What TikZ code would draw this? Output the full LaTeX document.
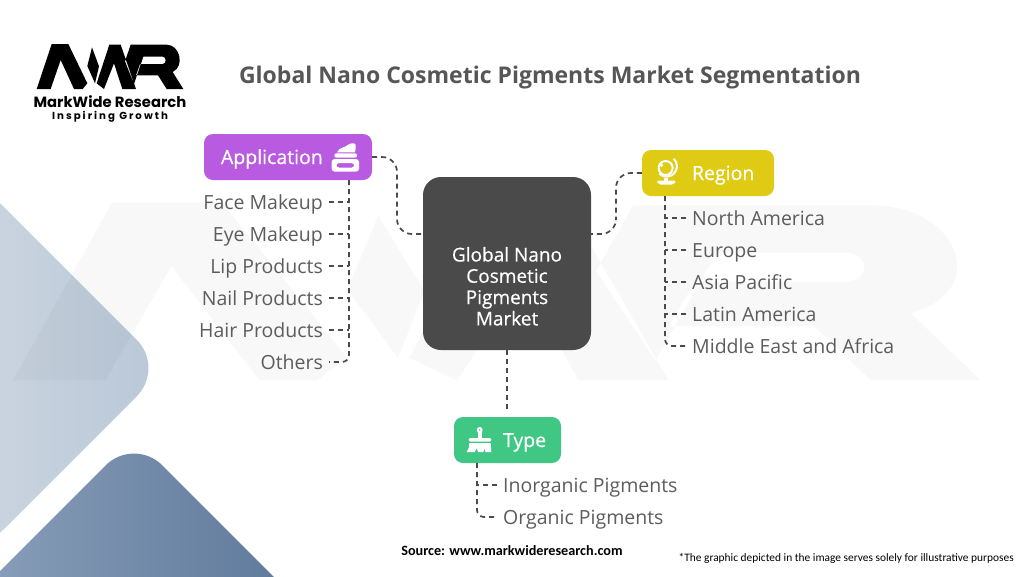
\documentclass[tikz,border=0pt]{standalone}
\usepackage{fontspec}
\setmainfont{Open Sans}
\newfontfamily\medfont[FakeBold=0.5]{Open Sans}
\newfontfamily\logofont{Poppins}
\newfontfamily\logotagfont[LetterSpace=20]{Poppins}
\newfontfamily\notefont{Carlito}
\usetikzlibrary{positioning}
\definecolor{inkgray}{HTML}{4A4A4A}
\definecolor{textgray}{HTML}{5C5C5C}
\definecolor{titlegray}{HTML}{565656}
\definecolor{appcolor}{HTML}{B95BE0}
\definecolor{regcolor}{HTML}{E0CB14}
\definecolor{typcolor}{HTML}{3FC783}
\definecolor{lightleft}{HTML}{CBD5E0}
\definecolor{lightright}{HTML}{B9C7D7}
\definecolor{darkleft}{HTML}{8EA3BD}
\definecolor{darkright}{HTML}{5A7598}
\newcommand{\logoshape}{%
  (20,153) -- (65,18) -- (115,18) -- (172,136) -- (158,153) -- (132,153) -- (92,66) -- (62,153) -- cycle
  (186,28) -- (207,85) -- (195,136) -- (172,84) -- cycle
  (200,136) -- (238,20) -- (272,20) -- (318,153) -- (277,153) -- (252,76) -- (222,153) -- cycle
  (285,70) -- (302,20) -- (410,20) .. controls (450,20) and (465,85) .. (428,102) -- (460,153) -- (410,153) -- (384,112) -- (318,112) -- (330,78) -- (398,78) .. controls (410,78) and (410,56) .. (398,56) -- (340,56) -- (312,138) -- cycle
}

\begin{document}
\begin{tikzpicture}[x=1pt, y=-1pt]
% -------------------------------------------------
\tikzset{
  conn/.style={draw=inkgray, line width=1.7pt, dash pattern=on 5pt off 4pt},
  curveconn/.style={conn, rounded corners=15pt},
  seg/.style={rectangle, rounded corners=9pt, text=white, minimum height=46pt, inner xsep=17pt, inner ysep=0pt, text height=16pt, text depth=2pt, align=left, font=\medfont\fontsize{19.5}{22}\selectfont},
  item/.style={text=textgray, inner xsep=6pt, inner ysep=0pt, text height=16pt, text depth=2pt, font=\fontsize{19.5}{22}\selectfont},
  icon/.style={fill=white, draw=none}
}

    \useasboundingbox (0,0) rectangle (1024,576);

    \begin{scope}
    \clip (0,0) rectangle (1024,576);
    \shade[left color=lightleft, right color=lightright, rounded corners=40pt] (-25,178) -- (165,368) -- (-25,558) -- cycle;   % light diamond
    \shade[left color=darkleft, right color=darkright, rounded corners=40pt] (-62,633) -- (134,437) -- (330,633) -- cycle;     % dark diamond
    \fill[black, opacity=0.028, even odd rule, shift={(-31,179)}, xscale=2.2, yscale=1.316] \logoshape;                        % watermark
    \end{scope}

    \fill[black, even odd rule, shift={(30,38)}, scale=1/3] \logoshape;                                                        % logo
    \node[font=\logofont\bfseries\fontsize{14.8}{16}\selectfont, inner sep=0pt] (brand) at (110,102) {MarkWide Research};
    \node[font=\logotagfont\bfseries\fontsize{10.2}{12}\selectfont, below=3pt of brand, inner sep=0pt] (slogan) {Inspiring Growth};

    \node[text=titlegray, inner sep=0pt, font=\bfseries\fontsize{23}{27}\selectfont] (title) at (550,77.5) {Global Nano Cosmetic Pigments Market Segmentation};

    \node[fill=inkgray, rounded corners=18pt, text=white, minimum width=168pt, minimum height=173pt, inner sep=0pt, align=center, font=\medfont\fontsize{19}{21.3}\selectfont] (hub) at (507,263.5)
        {\rule{0pt}{60pt}Global Nano\\Cosmetic\\Pigments\\Market};

    \node[seg, fill=appcolor, text width=134pt] (app) at (288,157) {Application};
    \node[seg, fill=regcolor, text width=98pt] (reg) at (708,173) {\hspace*{33pt}Region};
    \node[seg, fill=typcolor, text width=73pt] (typ) at (507.5,440) {\hspace*{32pt}Type};

    \node[item, anchor=east] (face) at (329,202) {Face Makeup};
    \node[item, below=32pt of face.east, anchor=east] (eye) {Eye Makeup};
    \node[item, below=32pt of eye.east, anchor=east] (lip) {Lip Products};
    \node[item, below=32pt of lip.east, anchor=east] (nail) {Nail Products};
    \node[item, below=32pt of nail.east, anchor=east] (hair) {Hair Products};
    \node[item, below=32pt of hair.east, anchor=east] (oth) {Others};

    \node[item, anchor=west] (nam) at (686,218) {North America};
    \node[item, below=32pt of nam.west, anchor=west] (eur) {Europe};
    \node[item, below=32pt of eur.west, anchor=west] (asp) {Asia Pacific};
    \node[item, below=32pt of asp.west, anchor=west] (lat) {Latin America};
    \node[item, below=32pt of lat.west, anchor=west] (mea) {Middle East and Africa};

    \node[item, anchor=west] (ino) at (497,485) {Inorganic Pigments};
    \node[item, below=32pt of ino.west, anchor=west] (org) {Organic Pigments};

    \node[inner sep=0pt, font=\notefont\bfseries\fontsize{14.2}{16}\selectfont] (src) at (512,551) {Source: www.markwideresearch.com};
    \node[inner sep=0pt, anchor=east, font=\notefont\fontsize{11.4}{14}\selectfont] (note) at (1014,558) {*The graphic depicted in the image serves solely for illustrative purposes};

    \coordinate (appbar) at (349,180);
    \coordinate (regbar) at (665,196);
    \coordinate (typbar) at (477,463);
    \coordinate (appmid) at (397,195);
    \coordinate (regmid) at (616,205);
    \coordinate (hubleft) at (423,234);
    \coordinate (hubright) at (591,234);
    \coordinate (typtop) at (507,411);

    \path[curveconn] (app.east) -| (appmid) |- (hubleft);
    \path[curveconn] (reg.west) -| (regmid) |- (hubright);
    \path[conn] (hub.south) -- (typtop);

    \path[conn, rounded corners=7pt] (appbar) |- (oth.east);
    \path[conn, rounded corners=7pt] (regbar) |- (mea.west);
    \path[conn, rounded corners=7pt] (typbar) |- (org.west);

    \path[conn] (face.east) -- (face.east -| appbar);
    \path[conn] (eye.east) -- (eye.east -| appbar);
    \path[conn] (lip.east) -- (lip.east -| appbar);
    \path[conn] (nail.east) -- (nail.east -| appbar);
    \path[conn] (hair.east) -- (hair.east -| appbar);

    \path[conn] (nam.west) -- (nam.west -| regbar);
    \path[conn] (eur.west) -- (eur.west -| regbar);
    \path[conn] (asp.west) -- (asp.west -| regbar);
    \path[conn] (lat.west) -- (lat.west -| regbar);

    \path[conn] (ino.west) -- (ino.west -| typbar);

    % jar icon
    \begin{scope}[shift={(325,135)}, scale=1/3]
    \fill[icon] (36,52) .. controls (42,36) and (62,38) .. (68,30) .. controls (76,24) and (90,22) .. (92,30) .. controls (94,38) and (90,46) .. (90,52) -- cycle;
    \fill[icon, rounded corners=2pt] (28,55) rectangle (96,68);
    \fill[icon, even odd rule, rounded corners=3pt] (20,72) rectangle (102,110) (34,84) rectangle (88,98);
    \end{scope}
    % globe icon
    \begin{scope}[shift={(645,150)}, scale=1/3]
    \draw[white, line width=2pt] (62,54) circle (21);
    \draw[white, line width=2pt] (86,26) arc (-47:135:31);
    \fill[icon] (50,46) circle (5);
    \fill[icon] (57,84) rectangle (69,94);
    \fill[icon, rounded corners=2pt] (34,92) -- (94,92) -- (86,104) -- (42,104) -- cycle;
    \end{scope}
    % brush icon
    \begin{scope}[shift={(458,418)}, scale=1/3]
    \fill[icon, even odd rule] (65,36) circle (9) (65,36) circle (3);
    \fill[icon] (59,40) rectangle (71,60);
    \fill[icon, rounded corners=2pt] (32,60) rectangle (100,71);
    \fill[icon] (34,75) -- (98,75) -- (100,102) -- (82,102) -- (80,90) -- (76,102) -- (60,102) -- (56,90) -- (50,102) -- (26,102) .. controls (32,94) and (34,86) .. (34,75) -- cycle;
    \end{scope}

\end{tikzpicture}
\end{document}
